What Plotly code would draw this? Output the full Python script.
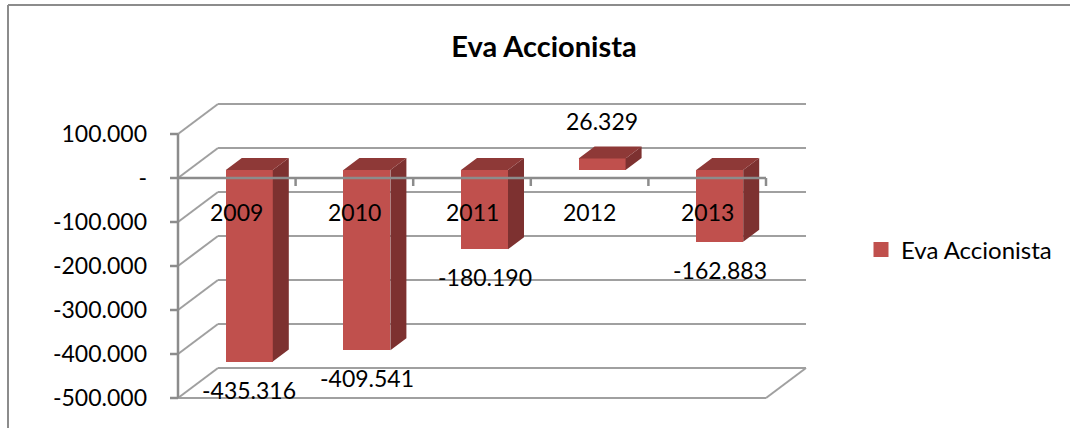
import plotly.graph_objects as go

# ---------------- data ----------------
categories = ["2009", "2010", "2011", "2012", "2013"]
values = [-435316, -409541, -180190, 26329, -162883]
value_labels = ["-435.316", "-409.541", "-180.190", "26.329", "-162.883"]
tick_vals = [100000, 0, -100000, -200000, -300000, -400000, -500000]
tick_text = ["100.000", "-", "-100.000", "-200.000", "-300.000", "-400.000", "-500.000"]
series_name = "Eva Accionista"
title_text = "Eva Accionista"

# ---------------- geometry (pixel scale of the 3D box) ----------------
W, H = 1070, 428
PX_PER_CAT = 117.6           # pixels per category slot (front plane)
PX_PER_VAL = 44.0 / 100000   # pixels per value unit
X0_PX = 178                  # pixel x of front-left corner (x = 0)
ZERO_PX = 178                # pixel y of front zero line
PLOT_L, PLOT_R, PLOT_T, PLOT_B = 160, 815, 96, 404

def dx(px):
    return px / PX_PER_CAT

def dy(px):
    return px / PX_PER_VAL

# oblique depth offsets
WALL_DX, WALL_DY = dx(40), dy(30)     # back wall
FACE_DX, FACE_DY = dx(12.5), dy(8)    # bar front face
SIDE_DX, SIDE_DY = dx(16), dy(12)     # bar depth
BAR_W = dx(47)
TICK = 8

x_range = [dx(PLOT_L - X0_PX), dx(PLOT_R - X0_PX)]
y_range = [dy(ZERO_PX - PLOT_B), dy(ZERO_PX - PLOT_T)]
n = len(categories)
vmin, vmax = min(tick_vals), max(tick_vals)

FRONT = "#C0504D"
SIDE = "#7D3130"
TOP = "#8E3937"
GRID = "#A0A0A0"
AXIS = "#8C8C8C"
FONT = "Lato"

fig = go.Figure()

# ---- walls: back gridlines, left-wall diagonals, floor ----
shapes = []
for v in tick_vals:
    shapes.append(dict(type="line", xref="x", yref="y", layer="below",
                       x0=WALL_DX, x1=n + WALL_DX, y0=v + WALL_DY, y1=v + WALL_DY,
                       line=dict(color=GRID, width=2)))
    shapes.append(dict(type="line", xref="x", yref="y", layer="below",
                       x0=0, x1=WALL_DX, y0=v, y1=v + WALL_DY,
                       line=dict(color=GRID, width=2)))
shapes.append(dict(type="line", xref="x", yref="y", layer="below",
                   x0=0, x1=n, y0=vmin, y1=vmin, line=dict(color=GRID, width=2)))
shapes.append(dict(type="line", xref="x", yref="y", layer="below",
                   x0=n, x1=n + WALL_DX, y0=vmin, y1=vmin + WALL_DY,
                   line=dict(color=GRID, width=2)))

# chart frame (left and top border)
pw, ph = PLOT_R - PLOT_L, PLOT_B - PLOT_T
def paper_x(px):
    return (px - PLOT_L) / pw
def paper_y(py):
    return (PLOT_B - py) / ph
shapes.append(dict(type="line", xref="paper", yref="paper", layer="above",
                   x0=paper_x(8), x1=paper_x(8), y0=paper_y(5), y1=paper_y(H + 5),
                   line=dict(color=AXIS, width=2)))
shapes.append(dict(type="line", xref="paper", yref="paper", layer="above",
                   x0=paper_x(8), x1=paper_x(W + 5), y0=paper_y(5), y1=paper_y(5),
                   line=dict(color=AXIS, width=2)))

# ---- bar front faces ----
centers = [i + 0.5 + FACE_DX for i in range(n)]
fig.add_trace(go.Bar(x=centers, y=values, base=[FACE_DY] * n, width=BAR_W,
                     marker=dict(color=FRONT, line=dict(width=0)),
                     name=series_name, showlegend=False, hoverinfo="skip"))

# ---- side and top faces ----
sx, sy, tx, ty = [], [], [], []
for c, v in zip(centers, values):
    x0, x1 = c - BAR_W / 2, c + BAR_W / 2
    lo, hi = FACE_DY + min(0, v), FACE_DY + max(0, v)
    sx += [x1, x1 + SIDE_DX, x1 + SIDE_DX, x1, x1, None]
    sy += [lo, lo + SIDE_DY, hi + SIDE_DY, hi, lo, None]
    tx += [x0, x1, x1 + SIDE_DX, x0 + SIDE_DX, x0, None]
    ty += [hi, hi, hi + SIDE_DY, hi + SIDE_DY, hi, None]
fig.add_trace(go.Scatter(x=sx, y=sy, fill="toself", fillcolor=SIDE, mode="lines",
                         line=dict(width=0, color=SIDE), showlegend=False, hoverinfo="skip"))
fig.add_trace(go.Scatter(x=tx, y=ty, fill="toself", fillcolor=TOP, mode="lines",
                         line=dict(width=0, color=TOP), showlegend=False, hoverinfo="skip"))

# ---- front axes (category axis at zero, value axis at left) ----
ax_x, ax_y = [0, n, None], [0, 0, None]
for k in range(1, n + 1):
    ax_x += [k, k, None]
    ax_y += [0, -dy(TICK), None]
ax_x += [0, 0, None]
ax_y += [vmax, vmin, None]
for v in tick_vals:
    ax_x += [-dx(TICK), 0, None]
    ax_y += [v, v, None]
fig.add_trace(go.Scatter(x=ax_x, y=ax_y, mode="lines", line=dict(color=AXIS, width=2.5),
                         showlegend=False, hoverinfo="skip"))

# legend-only entry
fig.add_trace(go.Scatter(x=[None], y=[None], mode="markers", name=series_name,
                         marker=dict(symbol="square", size=15, color=FRONT)))

# ---- annotations: categories and data labels ----
annotations = []
for i, cat in enumerate(categories):
    annotations.append(dict(x=i + 0.5, y=0, xref="x", yref="y", text=cat,
                            showarrow=False, yshift=-34, yanchor="middle",
                            font=dict(family=FONT, size=23, color="black")))
for c, v, lab in zip(centers, values, value_labels):
    annotations.append(dict(x=c, y=FACE_DY + v, xref="x", yref="y", text=lab,
                            showarrow=False, yshift=(37 if v > 0 else -28),
                            yanchor="middle",
                            font=dict(family=FONT, size=23, color="black")))

fig.update_layout(
    width=W, height=H,
    margin=dict(l=PLOT_L, r=W - PLOT_R, t=PLOT_T, b=H - PLOT_B),
    paper_bgcolor="white", plot_bgcolor="white",
    title=dict(text="<b>" + title_text + "</b>", x=544 / W, xanchor="center",
               y=1 - 47 / H, yanchor="middle", yref="container",
               font=dict(family=FONT, size=29, color="black")),
    xaxis=dict(range=x_range, visible=False, fixedrange=True),
    yaxis=dict(range=y_range, tickvals=tick_vals, ticktext=tick_text,
               showgrid=False, zeroline=False, showline=False, ticks="",
               ticklabelstandoff=12,
               tickfont=dict(family=FONT, size=23, color="black"), fixedrange=True),
    legend=dict(x=paper_x(861), y=paper_y(250), xanchor="left", yanchor="middle",
                font=dict(family=FONT, size=24, color="black"),
                bgcolor="rgba(0,0,0,0)"),
    shapes=shapes,
    annotations=annotations,
    showlegend=True,
    bargap=0,
)

fig.write_html("out.html",
               config={"displayModeBar": False},
               post_script="document.body.style.margin='0';document.body.style.overflow='hidden';")
